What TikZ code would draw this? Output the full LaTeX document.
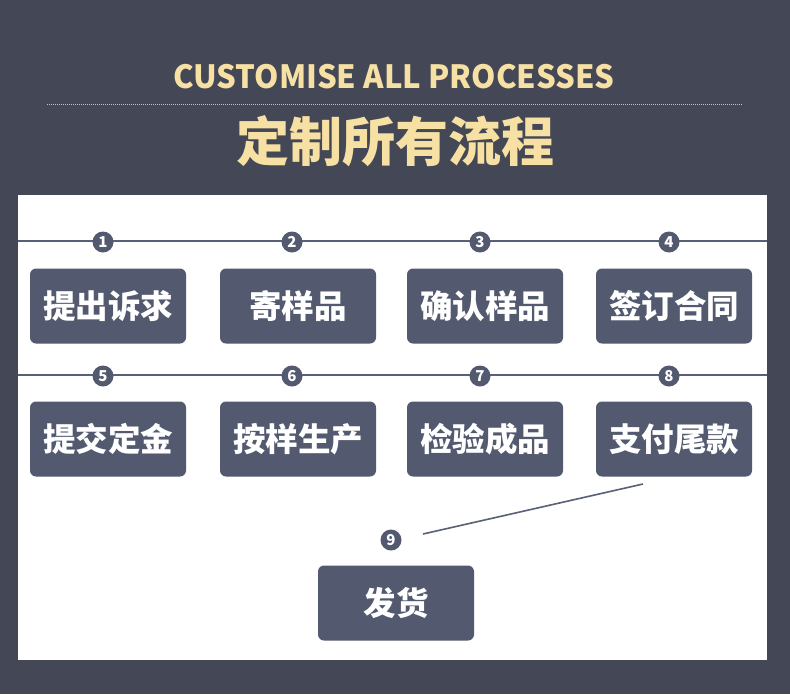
\documentclass[tikz,border=0pt]{standalone}
\usepackage{fontspec}
\setmainfont{Noto Sans CJK SC}
\usetikzlibrary{positioning}

\definecolor{slatebg}{HTML}{444756}
\definecolor{boxfill}{HTML}{535A70}
\definecolor{rulecol}{HTML}{5A6077}
\definecolor{goldtxt}{HTML}{F6E0A3}

\begin{document}
\begin{tikzpicture}[x=1pt, y=-1pt,
    box/.style={rectangle, rounded corners=6pt, fill=boxfill, text=white,
                minimum width=156pt, minimum height=75pt, inner sep=0pt,
                font=\bfseries\fontsize{32.5}{33}\selectfont},
    num/.style={circle, fill=boxfill, text=white, minimum size=21pt, inner sep=0pt,
                font=\bfseries\fontsize{15}{15}\selectfont},
    rule/.style={draw=rulecol, line width=1.6pt}]

    % background and panel
    \fill[slatebg] (0,0) rectangle (790,694);
    \fill[white] (18,195) rectangle (767,660);

    % heading
    \node [text=goldtxt, font=\bfseries\fontsize{32}{32}\selectfont, xscale=0.97] (eng) at (394,77) {CUSTOMISE ALL PROCESSES};
    \draw[goldtxt!80!slatebg, line width=1pt, dash pattern=on 1pt off 1pt] (47,104) -- (742,104);
    \node [text=goldtxt, font=\bfseries\fontsize{53}{53}\selectfont] (chn) at (395,141) {定制所有流程};

    % rows
    \coordinate (r1w) at (18,241);  \coordinate (r1e) at (767,241);
    \coordinate (r2w) at (18,375);  \coordinate (r2e) at (767,375);
    \draw[rule] (r1w) -- (r1e);
    \draw[rule] (r2w) -- (r2e);

    \node [num] (n1) at (103,242) {1};
    \node [num] (n2) at (292,242) {2};
    \node [num] (n3) at (480,242) {3};
    \node [num] (n4) at (669,242) {4};
    \node [box] (s1) at (108,306) {提出诉求};
    \node [box] (s2) at (298,306) {寄样品};
    \node [box] (s3) at (485,306) {确认样品};
    \node [box] (s4) at (674,306) {签订合同};

    \node [num] (n5) at (103,376) {5};
    \node [num] (n6) at (292,376) {6};
    \node [num] (n7) at (480,376) {7};
    \node [num] (n8) at (669,376) {8};
    \node [box] (s5) at (108,439) {提交定金};
    \node [box] (s6) at (298,439) {按样生产};
    \node [box] (s7) at (485,439) {检验成品};
    \node [box] (s8) at (674,439) {支付尾款};

    % last step
    \coordinate (l8) at (643,484);
    \coordinate (l9) at (423,534);
    \draw[rule] (l8) -- (l9);
    \node [num] (n9) at (391,540) {9};
    \node [box] (s9) at (396,603) {发货};

\end{tikzpicture}
\end{document}
